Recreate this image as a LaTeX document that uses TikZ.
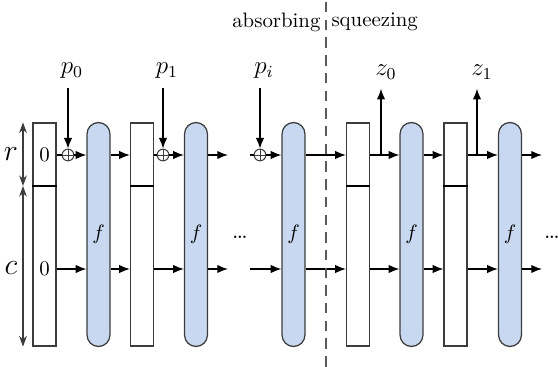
\documentclass[tikz,border=0pt]{standalone}
\usepackage{xcolor}
\usepackage{tikz}
\usetikzlibrary{arrows.meta,positioning,calc}
\definecolor{roundblue}{HTML}{C8D8F0}
\definecolor{edgegrey}{HTML}{3C3C3C}
\definecolor{cutgrey}{HTML}{5A5A5A}
\tikzset{
  statebox/.style={draw=edgegrey, fill=white, line width=0.6pt, minimum width=11pt,
    minimum height=107pt, inner sep=0pt},
  roundbox/.style={draw=edgegrey, fill=roundblue, line width=0.6pt, rounded corners=5.5pt,
    minimum width=11pt, minimum height=107.5pt, inner sep=0pt},
  xorop/.style={draw=edgegrey, circle, line width=0.5pt, minimum size=5.6pt, inner sep=0pt,
    path picture={\draw[line width=0.4pt]
      (path picture bounding box.north) -- (path picture bounding box.south)
      (path picture bounding box.west) -- (path picture bounding box.east);}},
  flow/.style={-{Latex[length=1.8mm, width=1.4mm]}, draw=black, line width=0.6pt},
  link/.style={draw=black, line width=0.6pt},
  dim/.style={{Stealth[length=1.8mm, width=1.3mm]}-{Stealth[length=1.8mm, width=1.3mm]},
    draw=edgegrey, line width=0.5pt},
  phase/.style={draw=cutgrey, dashed, dash pattern=on 5pt off 3.5pt, line width=0.8pt},
  iolabel/.style={font=\large},
  phaselabel/.style={inner sep=1pt, font=\normalsize},
}

\begin{document}
\begin{tikzpicture}[x=0.48pt, y=-0.48pt]
  \useasboundingbox (0,0) rectangle (558,367);
  % rows and markers
  \coordinate (rrow) at (0,155);
  \coordinate (crow) at (0,269);
  \coordinate (rdiv) at (0,186);
  \coordinate (gapL) at (228,0);
  \coordinate (gapR) at (250,0);
  \coordinate (outR) at (542,0);
  \coordinate (dimx) at (23,0);

  % states
  \node[statebox] (s0) at (44.5,234.5) {};
  \node[statebox] (s1) at (142,234.5) {};
  \node[statebox] (s2) at (358,234.5) {};
  \node[statebox] (s3) at (455.5,234.5) {};
  \foreach \s in {s0,s1,s2,s3}
    \draw[link] (\s.west |- rdiv) -- (\s.east |- rdiv);
  \node (zr) at (s0 |- rrow) {$0$};
  \node (zc) at (s0 |- crow) {$0$};

  % permutations
  \node[roundbox] (f1) at (98.5,234.5) {$f$};
  \node[roundbox] (f2) at (196,234.5) {$f$};
  \node[roundbox] (f3) at (293.5,234.5) {$f$};
  \node[roundbox] (f4) at (411.5,234.5) {$f$};
  \node[roundbox] (f5) at (510,234.5) {$f$};

  % absorbing inputs
  \node[xorop] (x0) at (68,155) {};
  \node[xorop] (x1) at (163,155) {};
  \node[xorop] (xi) at (260,155) {};
  \node[iolabel] (p0) at (72,71) {$p_0$};
  \node[iolabel] (p1) at (167,71) {$p_1$};
  \node[iolabel] (pi) at (264,71) {$p_i$};
  \draw[flow] ([yshift=-1pt]p0.south -| x0) -- (x0);
  \draw[flow] ([yshift=-1pt]p1.south -| x1) -- (x1);
  \draw[flow] ([yshift=-1pt]pi.south -| xi) -- (xi);

  % outer part
  \draw[link] (s0.east |- rrow) -- (x0);
  \draw[flow] (x0) -- (f1.west |- rrow);
  \draw[flow] (f1.east |- rrow) -- (s1.west |- rrow);
  \draw[link] (s1.east |- rrow) -- (x1);
  \draw[flow] (x1) -- (f2.west |- rrow);
  \draw[flow] (f2.east |- rrow) -- (gapL |- rrow);
  \draw[link] (gapR |- rrow) -- (xi);
  \draw[flow] (xi) -- (f3.west |- rrow);
  \draw[flow] (f3.east |- rrow) -- (s2.west |- rrow);
  \draw[flow] (s2.east |- rrow) -- (f4.west |- rrow);
  \draw[flow] (f4.east |- rrow) -- (s3.west |- rrow);
  \draw[flow] (s3.east |- rrow) -- (f5.west |- rrow);
  \draw[flow] (f5.east |- rrow) -- (outR |- rrow);

  % inner part
  \foreach \a/\b in {s0/f1, f1/s1, s1/f2, f3/s2, s2/f4, f4/s3, s3/f5}
    \draw[flow] (\a.east |- crow) -- (\b.west |- crow);
  \draw[flow] (f2.east |- crow) -- (gapL |- crow);
  \draw[flow] (gapR |- crow) -- (f3.west |- crow);
  \draw[flow] (f5.east |- crow) -- (outR |- crow);

  % squeezing outputs
  \coordinate (t0) at (381,155);
  \coordinate (t1) at (477,155);
  \node[iolabel] (z0) at (386,72) {$z_0$};
  \node[iolabel] (z1) at (482,72) {$z_1$};
  \draw[flow] (t0) -- ([yshift=-1pt]t0 |- z0.south);
  \draw[flow] (t1) -- ([yshift=-1pt]t1 |- z1.south);

  \node[iolabel] (dotsA) at (240,237) {\dots};
  \node[iolabel] (dotsB) at (552,237) {\dots};

  % rate / capacity
  \draw[dim] (dimx |- s0.north) -- (dimx |- rdiv);
  \draw[dim] (dimx |- rdiv) -- (dimx |- s0.south);
  \node[iolabel] (rl) at (11,154) {\Large$r$};
  \node[iolabel] (cl) at (11,268) {\Large$c$};

  % phases
  \coordinate (cuttop) at (326,2);
  \coordinate (cutbot) at (326,367);
  \draw[phase] (cuttop) -- (cutbot);
  \node[phaselabel, anchor=east] (absorb) at (323,22) {absorbing};
  \node[phaselabel, anchor=west] (squeeze) at (329,22) {squeezing};
\end{tikzpicture}
\end{document}
